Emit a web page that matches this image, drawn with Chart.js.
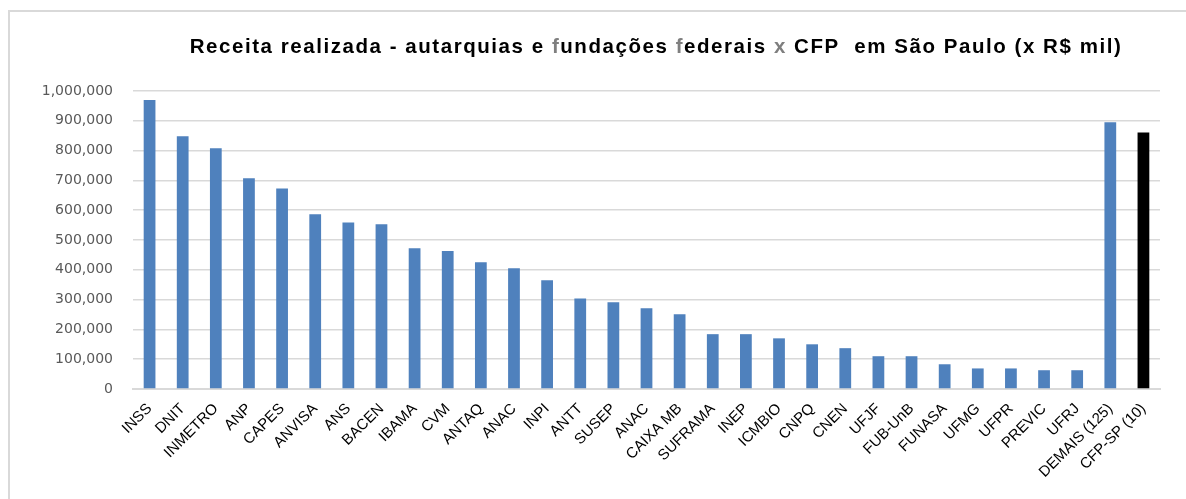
<!DOCTYPE html>
<html>
<head>
<meta charset="utf-8">
<script src="https://cdn.jsdelivr.net/npm/chart.js@4.4.1/dist/chart.umd.min.js"></script>
<style>
    body { margin: 0; background: #ffffff; overflow: hidden; }
    #frame {
        position: absolute; left: 8px; top: 10px;
        width: 1300px; height: 600px;
        border: 2px solid #d9d9d9;
    }
    #wrap { position: absolute; left: 0; top: 0; width: 1186px; height: 499px; }
</style>
</head>
<body>
<div id="frame"></div>
<div id="wrap"><canvas id="receitaChart"></canvas></div>
<script>
// Categories and values (x R$ mil)
const categories = ["INSS", "DNIT", "INMETRO", "ANP", "CAPES", "ANVISA", "ANS", "BACEN", "IBAMA", "CVM",
    "ANTAQ", "ANAC", "INPI", "ANTT", "SUSEP", "ANAC", "CAIXA MB", "SUFRAMA", "INEP", "ICMBIO",
    "CNPQ", "CNEN", "UFJF", "FUB-UnB", "FUNASA", "UFMG", "UFPR", "PREVIC", "UFRJ", "DEMAIS (125)", "CFP-SP (10)"];
const receita = [970000, 848000, 808000, 707000, 673000, 586000, 559000, 553000, 472000, 463000,
    425000, 405000, 365000, 304000, 291000, 271000, 251000, 184000, 184000, 170000,
    150000, 137000, 110000, 110000, 83000, 69000, 69000, 63000, 63000, 895000, 861000];
const highlight = "CFP-SP (10)";

// Title pieces (some letters are grey in the original)
const titleParts = [
    ["Receita realizada - autarquias e ", "#000000"],
    ["f", "#7f7f7f"],
    ["undações ", "#000000"],
    ["f", "#7f7f7f"],
    ["ederais ", "#000000"],
    ["x", "#7f7f7f"],
    [" CFP  em São Paulo (x R$ mil)", "#000000"]
];

const barColors = categories.map(c => c === highlight ? '#000000' : '#4f81bd');

// Draw the multi-coloured title
const titlePlugin = {
    id: 'multiTitle',
    afterDraw(chart) {
        const ctx = chart.ctx;
        ctx.save();
        ctx.font = 'bold 20.5px "Liberation Sans", Arial, sans-serif';
        ctx.letterSpacing = '1.55px';
        ctx.textBaseline = 'alphabetic';
        ctx.textAlign = 'left';
        let total = 0;
        titleParts.forEach(p => { total += ctx.measureText(p[0]).width; });
        let x = 656 - total / 2;
        titleParts.forEach(p => {
            ctx.fillStyle = p[1];
            ctx.fillText(p[0], x, 53);
            x += ctx.measureText(p[0]).width;
        });
        ctx.restore();
    }
};

const ctx = document.getElementById('receitaChart').getContext('2d');
new Chart(ctx, {
    type: 'bar',
    data: {
        labels: categories,
        datasets: [{
            data: receita,
            backgroundColor: barColors,
            borderWidth: 0,
            categoryPercentage: 1.0,
            barPercentage: 0.355
        }]
    },
    options: {
        responsive: true,
        maintainAspectRatio: false,
        animation: false,
        layout: { padding: { top: 91, right: 26, left: 0, bottom: 0 } },
        plugins: {
            legend: { display: false },
            tooltip: { enabled: false }
        },
        scales: {
            x: {
                grid: { display: false },
                border: { display: true, color: '#d9d9d9', width: 2 },
                ticks: {
                    autoSkip: false,
                    maxRotation: 45,
                    minRotation: 45,
                    padding: 3,
                    color: '#000000',
                    font: { family: '"Liberation Sans", Arial, sans-serif', size: 15 }
                },
                afterFit(scale) { scale.height = 110; }
            },
            y: {
                min: 0,
                max: 1000000,
                grid: { color: '#d9d9d9', lineWidth: 1.5, drawTicks: false },
                border: { display: false },
                ticks: {
                    stepSize: 100000,
                    padding: 20,
                    color: '#595959',
                    font: { family: '"DejaVu Sans", sans-serif', size: 14 },
                    callback: function(value) {
                        return value.toLocaleString('en-US');
                    }
                },
                afterFit(scale) { scale.width = 133; }
            }
        }
    },
    plugins: [titlePlugin]
});
</script>
</body>
</html>
